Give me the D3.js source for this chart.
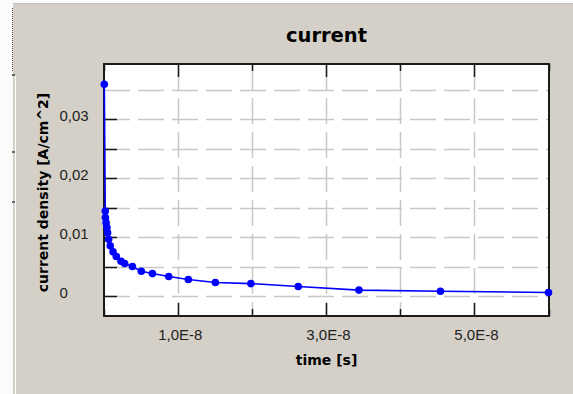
<!DOCTYPE html>
<html>
<head>
<meta charset="utf-8">
<script src="https://cdn.jsdelivr.net/npm/d3@7"></script>
<style>
  body { margin: 0; background: #d4d0c8; }
  svg { display: block; }
</style>
</head>
<body>
<svg id="chart" width="573" height="394"></svg>
<script>
// current density over time
const times = [0, 1.3e-10, 1.5e-10, 2.5e-10, 3.6e-10, 4.5e-10, 5.8e-10, 8.0e-10, 1.18e-9, 1.62e-9,
               2.26e-9, 2.75e-9, 3.8e-9, 5.0e-9, 6.5e-9, 8.7e-9, 1.135e-8, 1.5e-8, 1.98e-8, 2.62e-8,
               3.44e-8, 4.54e-8, 6.0e-8];
const density = [0.0359, 0.0144, 0.0133, 0.0124, 0.0116, 0.0107, 0.0096, 0.0085, 0.0075, 0.0067,
                 0.0059, 0.0055, 0.0050, 0.0042, 0.0038, 0.0033, 0.0028, 0.0023, 0.0021, 0.0016,
                 0.0010, 0.0008, 0.0006];

const yTicks = [0, 0.005, 0.01, 0.015, 0.02, 0.025, 0.03];
const yGrid = [0, 0.005, 0.01, 0.015, 0.02, 0.025, 0.03, 0.035];
const yLabelValues = [0, 0.01, 0.02, 0.03];
const yLabels = ["0", "0,01", "0,02", "0,03"];

const xMajor = [1e-8, 3e-8, 5e-8];
const xMinor = [0, 2e-8, 4e-8, 6e-8];
const xGrid = [1e-8, 2e-8, 3e-8, 4e-8, 5e-8];
const xLabels = ["1,0E-8", "3,0E-8", "5,0E-8"];

const plot = {left: 104, right: 549, top: 64, bottom: 316};

const svg = d3.select("#chart");

// window chrome on the left / top
svg.append("rect").attr("x", 0).attr("y", 0).attr("width", 13).attr("height", 394).attr("fill", "#fbfbfb");
svg.append("rect").attr("x", 0).attr("y", 0).attr("width", 573).attr("height", 3).attr("fill", "#fbfbfb");
svg.append("line").attr("x1", 13).attr("x2", 573).attr("y1", 3.5).attr("y2", 3.5).attr("stroke", "#c0c0c0");
svg.append("line").attr("x1", 12.5).attr("x2", 12.5).attr("y1", 8).attr("y2", 72)
    .attr("stroke", "#444").attr("stroke-dasharray", "1,1");
svg.append("line").attr("x1", 15.5).attr("x2", 15.5).attr("y1", 76).attr("y2", 394).attr("stroke", "#fff");
[75, 152, 202].forEach(function(yy) {
    svg.append("rect").attr("x", 12).attr("y", yy - 1).attr("width", 3).attr("height", 2).attr("fill", "#666");
});

const x = d3.scaleLinear().domain([0, 6e-8]).range([104.3, 548.5]);
const y = d3.scaleLinear().domain([0, 0.01]).range([296, 237]);

svg.append("rect")
    .attr("x", plot.left).attr("y", plot.top)
    .attr("width", plot.right - plot.left).attr("height", plot.bottom - plot.top)
    .attr("fill", "#fff");

// grid
svg.append("g").selectAll("line").data(yGrid).join("line")
    .attr("x1", plot.left).attr("x2", plot.right)
    .attr("y1", d => Math.round(y(d)) + 0.5).attr("y2", d => Math.round(y(d)) + 0.5)
    .attr("stroke", "#c8c8c8").attr("stroke-width", 1.5).attr("stroke-dasharray", "26,8");
svg.append("g").selectAll("line").data(xGrid).join("line")
    .attr("x1", d => Math.round(x(d)) + 0.5).attr("x2", d => Math.round(x(d)) + 0.5)
    .attr("y1", plot.top).attr("y2", plot.bottom)
    .attr("stroke", "#c8c8c8").attr("stroke-width", 1.5).attr("stroke-dasharray", "26,8");

// ticks
const tickCol = "#1a1a1a";
svg.append("g").selectAll("line").data(yTicks).join("line")
    .attr("x1", plot.left).attr("x2", plot.left + 13)
    .attr("y1", d => Math.round(y(d)) + 0.5).attr("y2", d => Math.round(y(d)) + 0.5)
    .attr("stroke", tickCol).attr("stroke-width", 1.5);
[[xMajor, 13], [xMinor, 7]].forEach(function(p) {
    const g = svg.append("g");
    g.selectAll("line.b").data(p[0]).join("line").attr("class", "b")
        .attr("x1", d => Math.round(x(d)) + 0.5).attr("x2", d => Math.round(x(d)) + 0.5)
        .attr("y1", plot.bottom).attr("y2", plot.bottom - p[1])
        .attr("stroke", tickCol).attr("stroke-width", 1.5);
    g.selectAll("line.t").data(p[0]).join("line").attr("class", "t")
        .attr("x1", d => Math.round(x(d)) + 0.5).attr("x2", d => Math.round(x(d)) + 0.5)
        .attr("y1", plot.top).attr("y2", plot.top + p[1])
        .attr("stroke", tickCol).attr("stroke-width", 1.5);
});

// frame
svg.append("rect")
    .attr("x", plot.left).attr("y", plot.top)
    .attr("width", plot.right - plot.left).attr("height", plot.bottom - plot.top)
    .attr("fill", "none").attr("stroke", "#1a1a1a").attr("stroke-width", 2);

// series
const pts = times.map((t, i) => [t, density[i]]);
svg.append("path")
    .datum(pts)
    .attr("fill", "none").attr("stroke", "#0000ff").attr("stroke-width", 1.6)
    .attr("d", d3.line().x(d => x(d[0])).y(d => y(d[1])));
svg.append("g").selectAll("circle").data(pts).join("circle")
    .attr("cx", d => x(d[0])).attr("cy", d => y(d[1])).attr("r", 3.8)
    .attr("fill", "#0000ff");

// tick labels
svg.append("g").selectAll("text").data(yLabelValues).join("text")
    .attr("x", 59.5).attr("y", d => y(d) + 1.5)
    .attr("font-family", "Liberation Sans, Arial, sans-serif").attr("font-size", 15)
    .attr("fill", "#222")
    .text((d, i) => yLabels[i]);
svg.append("g").selectAll("text").data(xMajor).join("text")
    .attr("x", d => x(d) + 2).attr("y", 340)
    .attr("text-anchor", "middle")
    .attr("font-family", "Liberation Sans, Arial, sans-serif").attr("font-size", 15)
    .attr("fill", "#222")
    .text((d, i) => xLabels[i]);

// titles
const cx = (plot.left + plot.right) / 2;
svg.append("text").attr("x", cx).attr("y", 41.5).attr("text-anchor", "middle")
    .attr("font-family", "DejaVu Sans, sans-serif").attr("font-weight", "bold").attr("font-size", 19.5)
    .attr("fill", "#000").text("current");
svg.append("text").attr("x", cx).attr("y", 365).attr("text-anchor", "middle")
    .attr("font-family", "DejaVu Sans, sans-serif").attr("font-weight", "bold").attr("font-size", 14)
    .attr("fill", "#000").text("time [s]");
svg.append("text").attr("transform", "translate(47.5,192.5) rotate(-90)").attr("text-anchor", "middle")
    .attr("font-family", "DejaVu Sans, sans-serif").attr("font-weight", "bold").attr("font-size", 14)
    .attr("fill", "#000").text("current density [A/cm^2]");
</script>
</body>
</html>
